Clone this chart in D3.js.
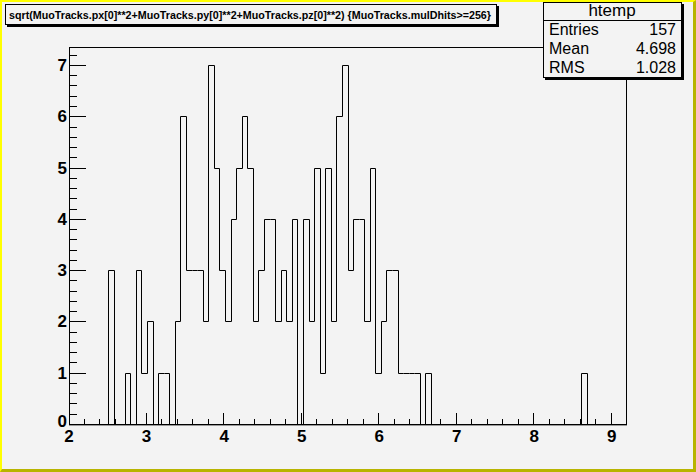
<!DOCTYPE html>
<html>
<head>
<meta charset="utf-8">
<script src="https://cdn.jsdelivr.net/npm/d3@7"></script>
<style>
  body { margin: 0; background: #f3f3f3; }
  svg { display: block; }
  text { font-family: "Liberation Sans", Arial, sans-serif; }
</style>
</head>
<body>
<svg id="chart" width="696" height="472"></svg>
<script>
// histogram htemp: 100 bins between xMin and xMax
const xMin = 2.012, xMax = 9.197, nBins = 100;
// non-empty bins (bin index -> entries), everything else is 0
const binIndex = [7, 10, 12, 13, 14, 16, 17, 19, 20, 21, 22, 23, 24, 25, 26, 27, 28, 29, 30, 31, 32,
  33, 34, 35, 36, 37, 38, 39, 40, 42, 43, 44, 45, 46, 47, 48, 49, 50, 51, 52, 53, 54, 55, 56,
  57, 58, 59, 60, 61, 62, 64, 92];
const binCount = [3, 1, 3, 1, 2, 1, 1, 2, 6, 3, 3, 3, 2, 7, 5, 3, 2, 4, 5, 6, 5,
  2, 3, 4, 4, 2, 3, 2, 4, 4, 2, 5, 1, 5, 2, 6, 7, 3, 4, 4, 2, 5, 1, 2,
  3, 3, 1, 1, 1, 1, 1, 1];
const xTickLabels = [2, 3, 4, 5, 6, 7, 8, 9];
const yTickLabels = [0, 1, 2, 3, 4, 5, 6, 7];
const titleText = 'sqrt(MuoTracks.px[0]**2+MuoTracks.py[0]**2+MuoTracks.pz[0]**2) {MuoTracks.mulDhits>=256}';
const statsName = 'htemp';
const statsRows = [['Entries', '157'], ['Mean', '4.698'], ['RMS', '1.028']];

const svg = d3.select('#chart');
const W = 696, H = 472;
const padL = 69, padR = 626, padT = 47, padB = 424;

// canvas background + bevel border
svg.append('rect').attr('width', W).attr('height', H).attr('fill', '#f3f3f3');
svg.append('path').attr('d', `M0,0 H${W} V${H} H0 Z M2,2 V${H-3} H${W-3} V2 Z`)
    .attr('fill', '#ffff00').attr('fill-rule', 'evenodd');
svg.append('path').attr('d', `M${W},0 V${H} H0 L2,${H-3} H${W-3} V2 Z`).attr('fill', '#b8b400');

const x = d3.scaleLinear().domain([xMin, xMax]).range([padL, padR]);
const y = d3.scaleLinear().domain([0, 7.35]).range([padB, padT]);

let counts = new Array(nBins).fill(0);
binIndex.forEach((b, i) => { counts[b] = binCount[i]; });
const bw = (xMax - xMin) / nBins;

// frame
svg.append('rect').attr('x', padL + 0.5).attr('y', padT + 0.5).attr('width', padR - padL).attr('height', padB - padT)
    .attr('fill', 'none').attr('stroke', '#000').attr('stroke-width', 1);
svg.append('line').attr('x1', padL).attr('x2', padR + 1).attr('y1', padB + 1.5).attr('y2', padB + 1.5)
    .attr('stroke', '#999');

// histogram outline
let pts = [[x(xMin), y(0)]];
counts.forEach((c, i) => {
  pts.push([x(xMin + i * bw), y(c)]);
  pts.push([x(xMin + (i + 1) * bw), y(c)]);
});
pts.push([x(xMax), y(0)]);
svg.append('path').attr('d', d3.line()(pts.map(p => [Math.round(p[0]) + 0.5, Math.round(p[1]) + 0.5])))
    .attr('fill', 'none').attr('stroke', '#000').attr('stroke-width', 1);

// x ticks
const g = svg.append('g').attr('stroke', '#000');
d3.range(10, 47).map(v => v / 5).filter(v => v >= xMin && v <= xMax).forEach(v => {
  const major = Math.abs(v - Math.round(v)) < 1e-6;
  const px = Math.round(x(v)) + 0.5;
  g.append('line').attr('x1', px).attr('x2', px).attr('y1', padB).attr('y2', padB - (major ? 11 : 5));
});
// y ticks
d3.range(0, 37).map(v => v / 5).forEach(v => {
  const major = Math.abs(v - Math.round(v)) < 1e-6;
  const py = Math.round(y(v)) + 0.5;
  g.append('line').attr('x1', padL).attr('x2', padL + (major ? 17 : 8)).attr('y1', py).attr('y2', py);
});

svg.selectAll('.xl').data(xTickLabels).enter().append('text')
    .attr('x', d => x(d) + 1).attr('y', 442).attr('text-anchor', 'middle')
    .attr('font-size', 17).attr('font-weight', 'bold').text(d => d);
// ROOT lifts the 0 label a bit so it clears the x labels
svg.selectAll('.yl').data(yTickLabels).enter().append('text')
    .attr('x', 67).attr('y', d => y(d) + (d === 0 ? 3 : 6)).attr('text-anchor', 'end')
    .attr('font-size', 17).attr('font-weight', 'bold').text(d => d);

// title box
svg.append('rect').attr('x', 7).attr('y', 6).attr('width', 492).attr('height', 21).attr('fill', '#000');
svg.append('rect').attr('x', 5.5).attr('y', 4.5).attr('width', 491).attr('height', 20)
    .attr('fill', '#f3f3f3').attr('stroke', '#000');
svg.append('text').attr('x', 9).attr('y', 19).attr('font-size', 11).attr('font-weight', 'bold')
    .attr('textLength', 482).attr('lengthAdjust', 'spacingAndGlyphs').text(titleText);

// stats box
const sx = 543, sy = 2, sw = 138, sh = 75;
svg.append('rect').attr('x', sx + 2).attr('y', sy + 2).attr('width', sw + 1).attr('height', sh + 1).attr('fill', '#000');
svg.append('rect').attr('x', sx + 0.5).attr('y', sy + 0.5).attr('width', sw).attr('height', sh)
    .attr('fill', '#f3f3f3').attr('stroke', '#000');
svg.append('line').attr('x1', sx).attr('x2', sx + sw).attr('y1', 20.5).attr('y2', 20.5).attr('stroke', '#000');
svg.append('text').attr('x', sx + sw / 2).attr('y', 16).attr('text-anchor', 'middle').attr('font-size', 17).text(statsName);
statsRows.forEach((r, i) => {
  svg.append('text').attr('x', 549).attr('y', 35 + i * 19).attr('font-size', 16).text(r[0]);
  svg.append('text').attr('x', 676).attr('y', 35 + i * 19).attr('text-anchor', 'end').attr('font-size', 16).text(r[1]);
});
</script>
</body>
</html>
